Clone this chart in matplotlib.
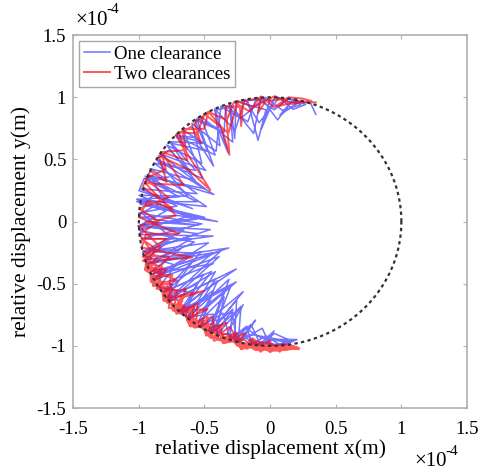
import matplotlib
matplotlib.use("Agg")
import matplotlib.pyplot as plt
import numpy as np

plt.rcParams['font.family'] = ['Liberation Serif', 'DejaVu Serif']
plt.rcParams['axes.unicode_minus'] = False

# clearance circle radius (x1e-4 m)
clearance = 1.0

# one clearance: trajectory vertices, angle (deg) and radius (x1e-4 m)
blue_ang = [68, 72, 80, 85, 78, 88, 95, 90, 100, 98, 92, 105, 112, 108, 115, 120, 118, 124, 134, 130,
            136, 128, 140, 147, 143, 150, 153, 156, 158, 162, 160, 166, 170, 166, 172, 180, 176, 178, 183, 180,
            186, 195, 192, 198, 214, 207, 205, 218, 212, 220, 236, 228, 226, 242, 235, 238, 250, 244, 246, 253,
            250, 256, 262, 258, 265, 272, 268, 276, 282, 274, 262, 255, 248, 245, 240, 236, 230, 226, 220, 215,
            205, 200, 193, 188, 182, 176, 170, 165, 158, 152, 144, 140, 130, 125, 116, 110, 102, 96, 88, 82,
            76, 84, 92, 105, 112, 126, 132, 146, 150, 162, 168, 176, 184, 196, 200, 210, 215, 222, 227, 240,
            244, 252, 256, 266, 270, 278, 266, 258, 252, 244, 238, 232, 228, 222, 218, 208, 204, 198, 194, 186,
            182, 174, 170, 164, 160, 155, 160, 168, 176, 190, 196, 206, 212, 224, 230, 240, 248, 258, 264, 272,
            280, 272, 266, 260, 254, 248, 243, 236, 231, 224, 219, 212, 207, 200, 194, 188, 182, 176, 171, 164,
            159, 152, 147, 140, 136, 128, 122, 114, 108, 100, 94, 86, 80, 74, 79, 86, 96, 101, 110, 115,
            122, 127, 138, 142, 150, 155, 166, 170, 178, 182, 190, 194, 204, 208, 216, 220, 228, 232, 238, 242,
            248, 252, 258, 262, 268, 274, 282]
blue_rad = [0.93, 1.0, 0.99, 0.86, 0.97, 1.0, 0.75, 0.98, 0.99, 0.66, 0.9, 1.0, 0.72, 0.97, 0.99, 0.64, 0.85, 1.0, 0.62, 0.88,
            1.0, 0.8, 1.0, 0.72, 0.96, 1.0, 0.48, 0.7, 1.01, 0.8, 1.02, 1.03, 0.6, 0.9, 1.0, 0.4, 0.7, 1.0, 0.55, 0.95,
            1.0, 0.45, 0.8, 1.0, 0.38, 0.7, 1.0, 0.55, 0.9, 1.0, 0.46, 0.75, 1.0, 0.55, 0.85, 1.0, 0.6, 0.9, 1.0, 0.7,
            0.95, 1.0, 0.8, 0.95, 1.0, 0.88, 0.98, 1.0, 0.97, 0.95, 0.92, 0.98, 0.78, 0.97, 0.7, 0.98, 0.62, 0.96, 0.66, 0.99,
            0.58, 0.97, 0.62, 0.99, 0.52, 1.0, 0.72, 1.02, 0.6, 1.0, 0.7, 0.98, 0.74, 1.0, 0.8, 0.99, 0.82, 1.0, 0.9, 1.0,
            0.97, 0.9, 1.0, 0.86, 1.0, 0.7, 0.99, 0.62, 1.0, 0.66, 1.02, 0.62, 1.0, 0.6, 1.0, 0.5, 0.97, 0.6, 1.0, 0.6,
            0.99, 0.72, 1.0, 0.86, 1.0, 0.98, 0.94, 0.88, 0.99, 0.82, 1.0, 0.7, 0.99, 0.75, 1.0, 0.66, 0.99, 0.72, 1.0, 0.66,
            1.0, 0.8, 1.03, 0.72, 1.0, 0.85, 0.95, 0.82, 0.98, 0.76, 1.0, 0.8, 1.0, 0.82, 1.0, 0.86, 0.98, 0.92, 0.99, 0.95,
            0.98, 0.9, 1.0, 0.84, 0.99, 0.68, 1.0, 0.56, 0.99, 0.58, 1.0, 0.44, 0.98, 0.5, 1.0, 0.46, 1.01, 0.5, 1.03, 0.58,
            1.02, 0.56, 1.0, 0.64, 0.99, 0.68, 1.0, 0.7, 1.0, 0.72, 1.0, 0.82, 1.0, 0.98, 0.92, 1.0, 0.8, 1.0, 0.78, 1.0,
            0.72, 0.99, 0.7, 1.0, 0.66, 1.01, 0.5, 1.03, 0.56, 1.0, 0.56, 1.0, 0.62, 1.0, 0.48, 0.99, 0.62, 1.0, 0.66, 1.0,
            0.76, 1.0, 0.86, 1.0, 0.92, 0.99, 0.97]

# two clearances
red_ang = [70, 78, 86, 82, 92, 96, 94, 102, 106, 104, 110, 120, 116, 118, 126, 130, 128, 136, 151, 146,
           148, 158, 156, 164, 172, 170, 178, 188, 186, 192, 206, 200, 202, 214, 210, 218, 228, 222, 226, 236,
           232, 240, 248, 244, 252, 258, 256, 264, 270, 268, 276, 282, 278, 270, 262, 258, 250, 246, 240, 236,
           230, 226, 220, 216, 210, 206, 200, 196, 190, 188, 194, 200, 206, 212, 218, 224, 230, 236, 242, 248,
           254, 260, 266, 272, 280, 276, 268, 262, 256, 250, 244, 238, 232, 226, 220, 214, 208, 202, 196, 200,
           208, 216, 224, 234, 244, 254, 264, 274, 281, 274, 266, 258, 250, 242, 234, 226, 218, 210, 202, 194,
           186, 180, 174, 166, 160, 152, 146, 138, 132, 124, 118, 112, 106, 100, 94, 88, 82, 76, 72, 80,
           88, 98, 104, 114, 120, 128, 134, 142, 146, 156, 162, 176, 182, 194, 198, 204, 210, 216, 222, 228,
           234, 240, 246, 252, 258, 264, 270, 276, 282, 278, 274, 270, 266, 262, 258, 254, 250, 246, 242, 238,
           234, 230, 226, 222, 218, 214, 210, 206, 202, 198, 194, 198, 202, 206, 210, 214, 218, 222, 226, 230,
           234, 238, 242, 246, 250, 254, 258, 262, 266, 270, 274, 278, 282]
red_rad = [1.02, 0.99, 0.93, 1.0, 0.97, 0.88, 1.0, 0.99, 0.8, 0.95, 0.99, 0.62, 0.85, 1.0, 0.98, 0.82, 0.97, 1.0, 0.52, 0.75,
           1.0, 0.85, 1.0, 1.01, 0.75, 0.95, 1.0, 0.7, 0.95, 1.0, 0.66, 0.9, 1.0, 0.85, 0.98, 1.0, 0.75, 0.92, 1.0, 0.85,
           0.97, 1.0, 0.88, 0.98, 1.01, 0.92, 1.0, 1.02, 0.96, 1.02, 1.04, 1.04, 1.0, 1.04, 0.95, 1.03, 0.9, 1.02, 0.88, 1.01,
           0.86, 1.02, 0.84, 1.01, 0.86, 1.0, 0.82, 1.0, 0.8, 0.99, 0.9, 1.01, 0.92, 1.02, 0.9, 1.02, 0.92, 1.03, 0.93, 1.03,
           0.95, 1.04, 0.97, 1.04, 1.03, 0.99, 1.03, 0.98, 1.03, 0.96, 1.03, 0.95, 1.02, 0.94, 1.02, 0.95, 1.02, 0.94, 1.01, 0.97,
           1.03, 0.96, 1.03, 0.97, 1.04, 0.98, 1.04, 1.0, 1.04, 1.0, 1.04, 0.97, 1.04, 0.97, 1.04, 0.96, 1.03, 0.96, 1.03, 0.94,
           1.0, 0.85, 1.0, 0.8, 1.01, 0.9, 1.0, 0.86, 1.0, 0.9, 1.0, 0.88, 1.0, 0.9, 1.01, 0.92, 1.01, 1.02, 1.02, 0.96,
           1.01, 0.93, 1.0, 0.78, 1.0, 0.9, 1.0, 0.8, 1.0, 0.72, 1.0, 0.72, 1.0, 0.86, 1.02, 0.9, 1.03, 0.92, 1.04, 0.93,
           1.04, 0.95, 1.05, 0.96, 1.05, 0.98, 1.05, 1.0, 1.05, 1.0, 1.04, 0.97, 1.04, 0.95, 1.03, 0.93, 1.03, 0.92, 1.02, 0.9,
           1.02, 0.9, 1.01, 0.88, 1.01, 0.9, 1.0, 0.88, 1.0, 0.9, 0.99, 0.95, 1.02, 0.94, 1.03, 0.95, 1.03, 0.94, 1.03, 0.95,
           1.04, 0.96, 1.04, 0.96, 1.04, 0.97, 1.05, 0.98, 1.05, 0.99, 1.05, 1.0, 1.04]

ticks = [-1.5, -1, -0.5, 0, 0.5, 1, 1.5]
tick_labels = ['-1.5', '-1', '-0.5', '0', '0.5', '1', '1.5']


def polar_to_xy(ang, rad):
    a = np.radians(np.array(ang, dtype=float))
    r = np.array(rad, dtype=float)
    return r * np.cos(a), r * np.sin(a)


bx, by = polar_to_xy(blue_ang, blue_rad)
rx, ry = polar_to_xy(red_ang, red_rad)

fig = plt.figure(figsize=(4.88, 4.75), dpi=100)
ax = fig.add_axes([0.150, 0.141, 0.807, 0.785])

ax.plot(bx, by, color='#0000ff', lw=1.1, alpha=0.55, label='One clearance')
ax.plot(rx, ry, color='#ff0000', lw=1.4, alpha=0.65, label='Two clearances')

t = np.linspace(0, 2 * np.pi, 400)
ax.plot(clearance * np.cos(t), clearance * np.sin(t), color='#333333', lw=1.6,
        ls=(0, (1.5, 1.5)), zorder=3)

ax.set_xlim(-1.5, 1.5)
ax.set_ylim(-1.5, 1.5)
ax.set_xticks(ticks)
ax.set_xticklabels(tick_labels)
ax.set_yticks(ticks)
ax.set_yticklabels(tick_labels)

for s in ax.spines.values():
    s.set_color('#b0b0b0')
    s.set_linewidth(1.2)
ax.tick_params(direction='in', length=3, width=0.8, color='#b0b0b0',
               top=True, right=True, labelsize=13.5)
ax.tick_params(axis='x', pad=9)
ax.tick_params(axis='y', pad=5)

ax.set_xlabel('relative displacement x(m)', fontsize=15.5, labelpad=1)
ax.set_ylabel('relative displacement y(m)', fontsize=15.5, labelpad=4)

fig.text(0.155, 0.948, '×10', fontsize=15, ha='left', va='baseline')
fig.text(0.218, 0.972, '-4', fontsize=11, ha='left', va='baseline')
fig.text(0.850, 0.018, '×10', fontsize=15, ha='left', va='baseline')
fig.text(0.913, 0.042, '-4', fontsize=11, ha='left', va='baseline')

leg = ax.legend(loc='upper left', fontsize=13.5, frameon=True, fancybox=False,
                handlelength=1.4, handletextpad=0.2, borderpad=0.25,
                labelspacing=0.15, borderaxespad=0.3)
leg.get_frame().set_edgecolor('#909090')
leg.get_frame().set_linewidth(1.0)

fig.savefig('out.png', dpi=100)
